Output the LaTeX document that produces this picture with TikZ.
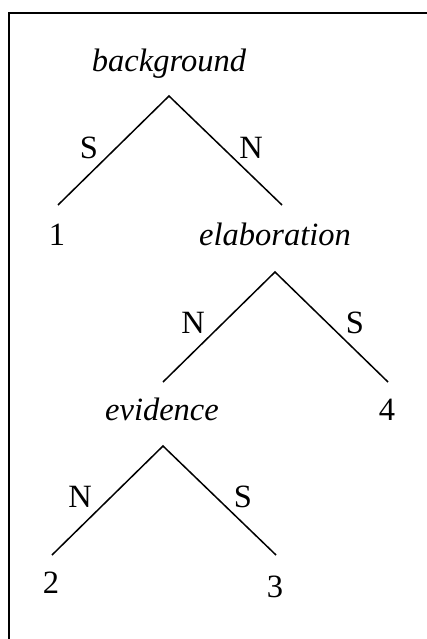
\documentclass[tikz,border=0pt]{standalone}
\usepackage{fontspec}
\setmainfont{Liberation Serif}
\begin{document}
\begin{tikzpicture}[x=1pt,y=-1pt,
  rel/.style={font=\fontsize{32.5}{38}\selectfont\itshape, anchor=base, inner sep=0pt},
  leaf/.style={font=\fontsize{32.5}{38}\selectfont, anchor=base, inner sep=0pt},
  lab/.style={font=\fontsize{32.5}{38}\selectfont, anchor=center, inner sep=0pt},
  edge/.style={line width=1.5pt}]
\useasboundingbox (0,0) rectangle (427,639);
\coordinate (fl) at (9,639);
\coordinate (fc) at (9,13.5);
\coordinate (fr) at (427,13.5);
\draw[line width=2pt] (fl) -- (fc) -- (fr);
% top tree
\node[rel] (bg) at (169,72) {background};
\coordinate (a1) at (169,96);
\coordinate (l1) at (58,205);
\coordinate (r1) at (282,205);
\draw[edge] (l1) -- (a1) -- (r1);
\node[lab] (s1) at (89,148) {S};
\node[lab] (n1) at (251,148) {N};
\node[leaf] (one) at (57,245) {1};
% middle tree
\node[rel] (el) at (275,245) {elaboration};
\coordinate (a2) at (275,272);
\coordinate (l2) at (163,382);
\coordinate (r2) at (388,382);
\draw[edge] (l2) -- (a2) -- (r2);
\node[lab] (n2) at (193,323) {N};
\node[lab] (s2) at (355,323) {S};
\node[leaf] (four) at (387,420) {4};
% bottom tree
\node[rel] (ev) at (162,420) {evidence};
\coordinate (a3) at (163,446);
\coordinate (l3) at (52,555);
\coordinate (r3) at (276,555);
\draw[edge] (l3) -- (a3) -- (r3);
\node[lab] (n3) at (80,497) {N};
\node[lab] (s3) at (243,497) {S};
\node[leaf] (two) at (51,593) {2};
\node[leaf] (three) at (275,597) {3};
\end{tikzpicture}
\end{document}
